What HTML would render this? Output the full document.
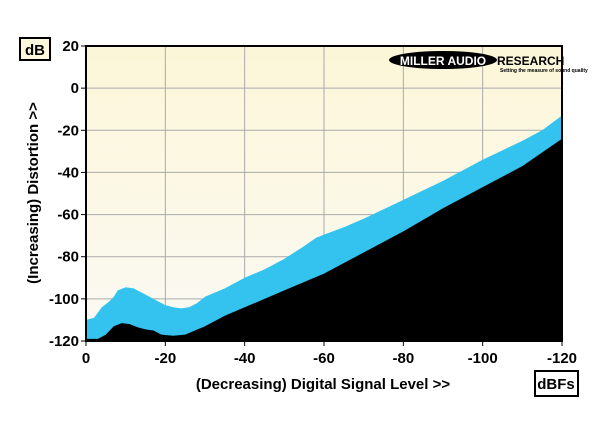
<!DOCTYPE html>
<html><head><meta charset="utf-8"><style>
body{margin:0;background:#fff;width:600px;height:425px;overflow:hidden}
svg text{font-family:"Liberation Sans",Arial,sans-serif;font-weight:bold}
</style></head><body>
<svg id="c" width="600" height="425">
<defs><linearGradient id="bg" x1="0" y1="0" x2="0" y2="1"><stop offset="0" stop-color="#fcf6d8"/><stop offset="1" stop-color="#fbfaf4"/></linearGradient></defs>
<rect x="86" y="46" width="476" height="295" fill="url(#bg)"/>
<g id="grid"></g>
<g id="series"></g>
<rect x="86" y="46" width="476" height="295" fill="none" stroke="#000" stroke-width="2"/>
<g id="axes"></g>
<g>
<ellipse cx="443" cy="60" rx="54" ry="9" fill="#000"/>
<text x="443" y="65" font-size="12" fill="#fff" text-anchor="middle">MILLER AUDIO</text>
<text x="497" y="65" font-size="12" fill="#000">RESEARCH</text>
<text x="500" y="72" font-size="5" fill="#000">Setting the measure of sound quality</text>
</g>
<rect x="20" y="38" width="30" height="22" fill="#fdf8dc" stroke="#000" stroke-width="2"/>
<text x="35" y="55" font-size="15" text-anchor="middle">dB</text>
<rect x="535" y="371" width="43" height="25" fill="#fff" stroke="#000" stroke-width="2"/>
<text x="556" y="389" font-size="15" text-anchor="middle">dBFs</text>
<text x="323" y="389" font-size="15" text-anchor="middle">(Decreasing) Digital Signal Level &gt;&gt;</text>
<text transform="translate(38,193) rotate(-90)" font-size="15" text-anchor="middle">(Increasing) Distortion &gt;&gt;</text>
</svg>
<script>
const xTicks=[0,-20,-40,-60,-80,-100,-120];
const yTicks=[20,0,-20,-40,-60,-80,-100,-120];
const levels=[0,2,4,6,7,8,10,12,14,16,18,20,22,24,26,28,30,35,40,45,50,55,58,60,65,70,80,90,100,110,115,120];
const upper=[-110,-109,-104,-101,-99,-96,-94.5,-95,-97,-99,-101,-103,-104,-104.5,-104,-102,-99,-95,-90,-86,-81,-75,-71,-69.5,-66,-62,-53,-44,-34,-25,-20,-13];
const lowLevels=[0,3,5,7,9,11,13,15,17,19,22,25,30,35,40,50,60,70,80,90,100,110,120];
const lower=[-119,-119,-117,-113,-111.5,-112,-113.5,-114.5,-115,-117,-117.5,-117,-113,-108,-104,-96,-88,-78,-68,-57,-47,-37,-24];
const X=v=>86+(-v)/120*476;  // v in dBFS (0..-120)
const Y=v=>46+(20-v)/140*295;
const NS='http://www.w3.org/2000/svg';
function mk(t,a,p){const e=document.createElementNS(NS,t);for(const k in a)e.setAttribute(k,a[k]);p.appendChild(e);return e;}
const g=document.getElementById('grid'),ax=document.getElementById('axes'),s=document.getElementById('series');
xTicks.forEach(t=>{const l=mk('line',{x1:X(t),x2:X(t),y1:46,y2:341,stroke:'#aaa'},g);


const tk=mk('line',{x1:X(t),x2:X(t),y1:341,y2:346,stroke:'#000'},ax);


const tx=mk('text',{x:X(t),y:363,'font-size':15,'text-anchor':'middle'},ax);tx.textContent=t;

});
yTicks.forEach(t=>{const l=mk('line',{x1:86,x2:562,y1:Y(t),y2:Y(t),stroke:'#aaa'},g);


const tk=mk('line',{x1:81,x2:86,y1:Y(t),y2:Y(t),stroke:'#000'},ax);


const tx=mk('text',{x:79,y:Y(t)+5,'font-size':15,'text-anchor':'end'},ax);tx.textContent=t;

});
let d='M'+X(0)+','+Y(-120);levels.forEach((l,i)=>d+=' L'+X(-l)+','+Y(upper[i]));d+=' L'+X(-120)+','+Y(-120)+'Z';
const u=mk('path',{d:d,fill:'#33c3ee'},s);


let d2='M'+X(0)+','+Y(-120);lowLevels.forEach((l,i)=>d2+=' L'+X(-l)+','+Y(lower[i]));d2+=' L'+X(-120)+','+Y(-120)+'Z';
const lo=mk('path',{d:d2,fill:'#000'},s);


</script>
</body></html>
